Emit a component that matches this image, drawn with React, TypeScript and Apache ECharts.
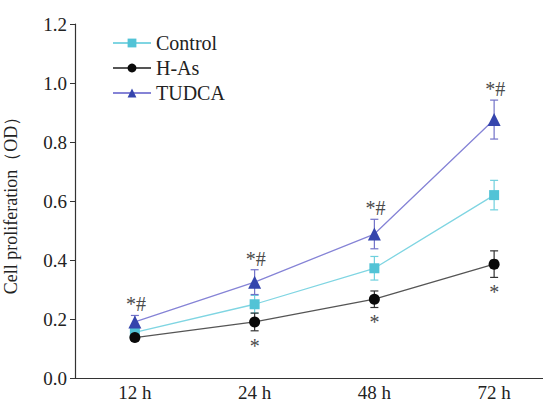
import React, { useEffect, useRef } from "react";
import * as echarts from "echarts";

const categories = ["12 h", "24 h", "48 h", "72 h"];
const yTicks = [0, 0.2, 0.4, 0.6, 0.8, 1.0, 1.2];
const controlMean = [0.155, 0.25, 0.372, 0.62];
const controlErr = [0.012, 0.03, 0.04, 0.05];
const hasMean = [0.137, 0.19, 0.267, 0.386];
const hasErr = [0.01, 0.03, 0.028, 0.045];
const tudcaMean = [0.19, 0.325, 0.488, 0.876];
const tudcaErr = [0.022, 0.042, 0.05, 0.066];
const tudcaMarks = ["*#", "*#", "*#", "*#"];
const hasMarks = ["", "*", "*", "*"];

const FONT = "'Liberation Serif', 'Times New Roman', serif";

function errSeries(
  name: string,
  mean: number[],
  err: number[],
  color: string,
  marks: string[] | null,
  markPos: "top" | "bottom"
) {
  return {
    type: "custom",
    name: name + "-err",
    z: 1,
    silent: true,
    data: mean.map((m, i) => [i, m - err[i], m + err[i], marks ? marks[i] : ""]),
    renderItem: (params: any, api: any) => {
      const x = api.value(0);
      const lo = api.coord([x, api.value(1)]);
      const hi = api.coord([x, api.value(2)]);
      const w = 4;
      const style = { stroke: color, lineWidth: 1.2 };
      const children: any[] = [
        { type: "line", shape: { x1: lo[0], y1: lo[1], x2: hi[0], y2: hi[1] }, style },
        { type: "line", shape: { x1: hi[0] - w, y1: hi[1], x2: hi[0] + w, y2: hi[1] }, style },
        { type: "line", shape: { x1: lo[0] - w, y1: lo[1], x2: lo[0] + w, y2: lo[1] }, style },
      ];
      const label = api.value(3);
      if (label) {
        children.push({
          type: "text",
          x: markPos === "top" ? hi[0] + 1 : lo[0],
          y: markPos === "top" ? hi[1] - 1 : lo[1] + 5,
          style: {
            text: String(label),
            fill: "#4a4a4a",
            font: `20px ${FONT}`,
            align: "center",
            verticalAlign: markPos === "top" ? "bottom" : "top",
          },
        });
      }
      return { type: "group", children };
    },
  };
}

export default function App() {
  const ref = useRef<HTMLDivElement>(null);
  useEffect(() => {
    if (!ref.current) return;
    const chart = echarts.init(ref.current, undefined, { renderer: "svg" });
    chart.setOption({
      animation: false,
      backgroundColor: "#fff",
      grid: { left: 75, top: 24, bottom: 27, width: 479, containLabel: false, outerBoundsMode: "none" },
      legend: {
        orient: "vertical",
        left: 107,
        top: 28,
        itemWidth: 38,
        itemHeight: 11,
        itemGap: 5,
        textStyle: { fontFamily: FONT, fontSize: 20, color: "#222" },
        data: ["Control", "H-As", "TUDCA"],
      },
      xAxis: {
        type: "category",
        data: categories,
        boundaryGap: true,
        axisLine: { lineStyle: { color: "#333", width: 1.2 } },
        axisTick: { alignWithLabel: true, inside: true, length: 4, lineStyle: { color: "#333" } },
        axisLabel: { fontFamily: FONT, fontSize: 19, color: "#222", margin: 5 },
      },
      yAxis: {
        type: "value",
        min: 0,
        max: 1.2,
        interval: 0.2,
        name: "Cell proliferation（OD）",
        nameLocation: "middle",
        nameGap: 55,
        nameTextStyle: { fontFamily: FONT, fontSize: 18, color: "#222" },
        splitLine: { show: false },
        axisLine: { show: true, lineStyle: { color: "#333", width: 1.2 } },
        axisTick: { show: true, length: 5, lineStyle: { color: "#333" } },
        axisLabel: {
          fontFamily: FONT,
          fontSize: 19,
          color: "#222",
          margin: 8,
          formatter: (v: number) => (yTicks.some((t) => Math.abs(t - v) < 1e-6) ? v.toFixed(1) : ""),
        },
      },
      series: [
        errSeries("Control", controlMean, controlErr, "#6fd0de", null, "top"),
        errSeries("H-As", hasMean, hasErr, "#333", hasMarks, "bottom"),
        errSeries("TUDCA", tudcaMean, tudcaErr, "#7272c8", tudcaMarks, "top"),
        {
          type: "line",
          name: "Control",
          data: controlMean,
          z: 3,
          symbol: "rect",
          symbolSize: 10,
          lineStyle: { color: "#7fd5e2", width: 1.3 },
          itemStyle: { color: "#52c3d6" },
        },
        {
          type: "line",
          name: "H-As",
          data: hasMean,
          z: 3,
          symbol: "circle",
          symbolSize: 11,
          lineStyle: { color: "#555", width: 1.3 },
          itemStyle: { color: "#0a0a0a" },
        },
        {
          type: "line",
          name: "TUDCA",
          data: tudcaMean,
          z: 3,
          symbol: "triangle",
          symbolSize: 13,
          lineStyle: { color: "#8583d6", width: 1.3 },
          itemStyle: { color: "#3545ad" },
        },
      ],
    });
    return () => chart.dispose();
  }, []);
  return <div ref={ref} style={{ width: 543, height: 405, position: "absolute", left: 0, top: 0 }} />;
}
